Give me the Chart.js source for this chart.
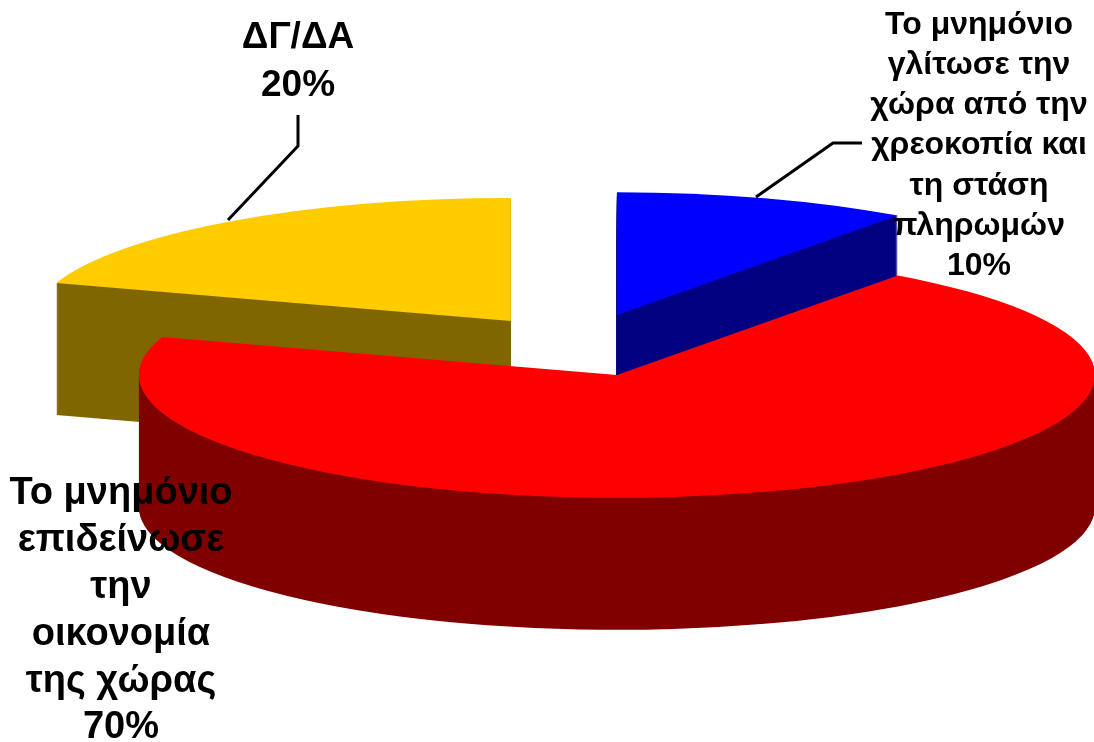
<!DOCTYPE html>
<html>
<head>
<meta charset="utf-8">
<style>
  html, body { margin: 0; padding: 0; background: #fff; overflow: hidden; }
  #wrap { width: 1094px; height: 742px; }
</style>
<script src="https://cdn.jsdelivr.net/npm/chart.js@4"></script>
</head>
<body>
<div id="wrap"><canvas id="pie" width="1094" height="742"></canvas></div>
<script>
// ----------- Data ------------
const categories = [
  "Το μνημόνιο γλίτωσε την χώρα από την χρεοκοπία και τη στάση πληρωμών",
  "Το μνημόνιο επιδείνωσε την οικονομία της χώρας",
  "ΔΓ/ΔΑ",
];
const values = [10, 70, 20];
const topColors = ["#0000ff", "#ff0000", "#ffcc00"];
const wallColors = ["#000080", "#800000", "#806600"];

const labelLines = [
  ["Το μνημόνιο", "γλίτωσε την", "χώρα από την", "χρεοκοπία και", "τη στάση", "πληρωμών", "10%"],
  ["Το μνημόνιο", "επιδείνωσε", "την", "οικονομία", "της χώρας", "70%"],
  ["ΔΓ/ΔΑ", "20%"],
];

// ----------- 3D look ------------
const pieCenter = { x: 579, y: 345 };
const pieRadius = 478;
const tilt = 0.257;     // vertical squash of the disc
const depth = 132;      // wall height, px
const explode = [122.7, 122.7, 116];  // how far each slice sits from the centre
const drawOrder = [0, 2, 1]; // back slices first, red on top

const labelStyle = [
  { x: 979, y: 25, size: 32, pitch: 40.2 },
  { x: 121, y: 494, size: 38, pitch: 46.8 },
  { x: 298, y: 38, size: 37, pitch: 48 },
];
const leaders = [
  [[862, 143], [833, 143], [756, 197]],
  [[298, 115], [298, 146], [228, 220]],
];

function drawSlice(chart, arc, i, color, dy) {
  const ctx = chart.ctx;
  const mid = (arc.startAngle + arc.endAngle) / 2;
  const opts = arc.options;
  arc.options = Object.assign({}, opts, { backgroundColor: color, borderWidth: 0 });
  ctx.save();
  ctx.translate(pieCenter.x + Math.cos(mid) * explode[i], pieCenter.y + Math.sin(mid) * explode[i] * tilt + dy);
  ctx.scale(1, tilt);
  ctx.translate(-arc.x, -arc.y);
  arc.draw(ctx);
  ctx.restore();
  arc.options = opts;
}

const pie3d = {
  id: "pie3d",
  beforeDatasetsDraw(chart) {
    const arcs = chart.getDatasetMeta(0).data;
    drawOrder.forEach((i) => {
      for (let dy = depth; dy > 0; dy--) drawSlice(chart, arcs[i], i, wallColors[i], dy);
      drawSlice(chart, arcs[i], i, topColors[i], 0);
    });
    return false; // already drawn above
  },
  afterDraw(chart) {
    const ctx = chart.ctx;
    ctx.save();
    ctx.strokeStyle = "#000";
    ctx.lineWidth = 3;
    ctx.lineJoin = "round";
    leaders.forEach((pts) => {
      ctx.beginPath();
      pts.forEach((p, i) => (i ? ctx.lineTo(p[0], p[1]) : ctx.moveTo(p[0], p[1])));
      ctx.stroke();
    });
    ctx.fillStyle = "#000";
    ctx.textAlign = "center";
    ctx.textBaseline = "middle";
    labelLines.forEach((lines, i) => {
      const s = labelStyle[i];
      ctx.font = `bold ${s.size}px "Liberation Sans", Arial, sans-serif`;
      lines.forEach((line, j) => ctx.fillText(line, s.x, s.y + j * s.pitch));
    });
    ctx.restore();
  },
};

// ----------- Chart ------------
new Chart(document.getElementById("pie"), {
  type: "pie",
  data: {
    labels: categories,
    datasets: [{ data: values, backgroundColor: topColors, borderWidth: 0, clip: false }],
  },
  options: {
    responsive: false,
    animation: false,
    radius: pieRadius,
    layout: { padding: 0 },
    plugins: { legend: { display: false }, tooltip: { enabled: false } },
  },
  plugins: [pie3d],
});
</script>
</body>
</html>
